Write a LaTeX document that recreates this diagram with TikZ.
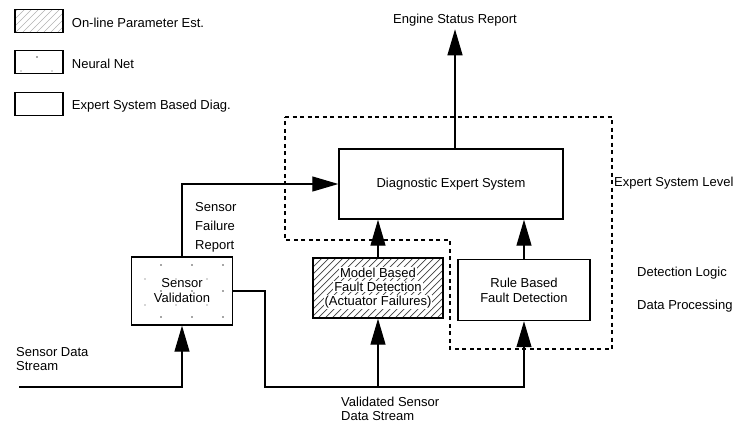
\documentclass[tikz,border=0pt]{standalone}
\usepackage{fontspec}
\setmainfont{Liberation Sans}
\usepackage{tikz}
\usetikzlibrary{arrows.meta,calc,positioning,patterns}

\setlength{\fboxsep}{0.8pt}

% wide hatching and sparse specks for the method boxes
\pgfdeclarepatternformonly{hatchwide}{\pgfpoint{-1pt}{-1pt}}{\pgfpoint{8pt}{8pt}}{\pgfpoint{7pt}{7pt}}{%
  \pgfsetlinewidth{0.7pt}
  \pgfpathmoveto{\pgfpoint{0pt}{0pt}}
  \pgfpathlineto{\pgfpoint{7.1pt}{7.1pt}}
  \pgfusepath{stroke}}
\pgfdeclarepatternformonly{specks}{\pgfpoint{-1pt}{-1pt}}{\pgfpoint{32pt}{27pt}}{\pgfpoint{31pt}{26pt}}{%
  \pgfpathcircle{\pgfpoint{6pt}{5pt}}{0.9pt}
  \pgfpathcircle{\pgfpoint{21pt}{17pt}}{0.6pt}
  \pgfusepath{fill}}

\begin{document}
\begin{tikzpicture}[
    x=1pt, y=-1pt,
    font=\fontsize{13}{15}\selectfont,
    blk/.style={
      draw=black, line width=1.4pt,
      fill=white,
      align=center, inner sep=2pt
    },
    paramest/.style={blk, pattern=hatchwide, pattern color=black!75},
    neural/.style={blk, pattern=specks, pattern color=black!70},
    lbl/.style={align=left, inner sep=1pt, anchor=west},
    conn/.style={line width=1.2pt, draw=black},
    arr/.style={-{Triangle[length=26pt,width=15pt]}, line width=1.2pt, draw=black},
    lvl/.style={line width=1.4pt, dash pattern=on 4pt off 3.5pt}
  ]
  \useasboundingbox (0,0) rectangle (751,426);

  % Legend
  \node[paramest, pattern color=black!30, minimum width=48pt, minimum height=23pt] (keyA) at (39,21) {};
  \node[neural, minimum width=48pt, minimum height=23pt] (keyB) at (39,62) {};
  \node[blk, minimum width=48pt, minimum height=23pt] (keyC) at (39,104) {};
  \node[lbl] at ($(keyA.east)+(7,2)$) {On-line Parameter Est.};
  \node[lbl] at ($(keyB.east)+(7,2)$) {Neural Net};
  \node[lbl] at ($(keyC.east)+(7,2)$) {Expert System Based Diag.};

  % Nodes
  \node[blk, minimum width=224pt, minimum height=70pt] (diag) at (451,184) {Diagnostic Expert System};
  \node[paramest, minimum width=130pt, minimum height=60pt] (model) at (378,288)
    {\colorbox{white}{Model Based}\\[-1pt]\colorbox{white}{Fault Detection}\\[-1pt]\colorbox{white}{(Actuator Failures)}};
  \node[blk, minimum width=132pt, minimum height=61pt] (rule) at (524,290) {Rule Based\\Fault Detection};
  \node[neural, minimum width=101pt, minimum height=68pt] (sensval) at (182,291) {Sensor\\Validation};

  \node[inner sep=3pt] (report) at (455,20) {Engine Status Report};

  % Level labels
  \node[lbl] (lvlES) at (613,183) {Expert System Level};
  \node[lbl] (lvlDL) at (636,273) {Detection Logic};
  \node[lbl] (lvlDP) at (636,306) {Data Processing};

  % Stream labels
  \node[lbl] (failrep) at (194,227) {Sensor\\[4pt]Failure\\[4pt]Report};
  \node[lbl, font=\fontsize{13}{13.5}\selectfont] (sdata) at (15,359) {Sensor Data\\Stream};
  \node[lbl, font=\fontsize{13}{13.5}\selectfont] (vdata) at (340,409) {Validated Sensor\\Data Stream};

  % Key coordinates for the data lines
  \coordinate (sin) at (19,387);     % raw sensor data enters
  \coordinate (vbus) at (265,387);   % validated data bus corner

  % Level boundary
  \draw[lvl] (285,117) -- (612,117) -- (612,349) -- (450,349) -- (450,240) -- (285,240) -- cycle;

  % Connectors
  \draw[arr] (sin) -| (sensval.south);
  \draw[arr] (sensval.east) -| (vbus) -| (rule.south);
  \draw[arr] (vbus -| model.south) -- (model.south);
  \draw[arr] (sensval.north) |- (diag.west);
  \draw[arr] (model.north) -- (diag.south -| model.north);
  \draw[arr] (rule.north) -- (diag.south -| rule.north);
  \draw[arr] (diag.north -| report.south) -- (report.south);

\end{tikzpicture}
\end{document}
